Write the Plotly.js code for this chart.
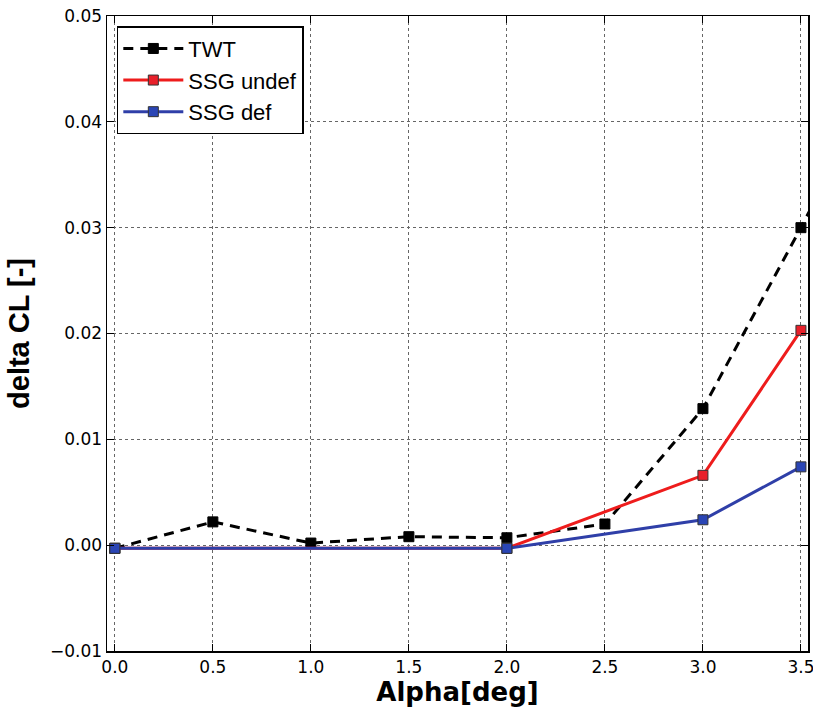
<!DOCTYPE html>
<html>
<head>
<meta charset="utf-8">
<script src="https://cdn.plot.ly/plotly-3.0.1.min.js"></script>
<style>html,body{margin:0;padding:0;background:#fff;}#chart{width:813px;height:707px;}</style>
</head>
<body>
<div id="chart"></div>
<script>
const twtAlpha = [0.0, 0.5, 1.0, 1.5, 2.0, 2.5, 3.0, 3.5, 4.0];
const twtCL = [-0.0003, 0.0022, 0.0002, 0.0008, 0.0007, 0.0020, 0.0129, 0.0300, 0.0480];
const ssgAlpha = [0.0, 2.0, 3.0, 3.5];
const ssgUndefCL = [-0.0003, -0.0003, 0.0066, 0.0203];
const ssgDefCL = [-0.0003, -0.0003, 0.0024, 0.0074];
const xTicks = [0.0, 0.5, 1.0, 1.5, 2.0, 2.5, 3.0, 3.5];
const xTickText = ['0.0', '0.5', '1.0', '1.5', '2.0', '2.5', '3.0', '3.5'];
const yTicks = [-0.01, 0.0, 0.01, 0.02, 0.03, 0.04, 0.05];
const yTickText = ['\u22120.01', '0.00', '0.01', '0.02', '0.03', '0.04', '0.05'];

const traces = [
  {x: twtAlpha, y: twtCL, name: 'TWT', mode: 'lines+markers',
   line: {color: '#000000', width: 3, dash: '10px,7px'},
   marker: {symbol: 'square', size: 10, color: '#000000', line: {color: '#000000', width: 1}}},
  {x: ssgAlpha, y: ssgUndefCL, name: 'SSG undef', mode: 'lines+markers',
   line: {color: '#ee1c1c', width: 3},
   marker: {symbol: 'square', size: 10, color: '#e8202a', line: {color: '#333333', width: 1}}},
  {x: ssgAlpha, y: ssgDefCL, name: 'SSG def', mode: 'lines+markers',
   line: {color: '#2f3fa8', width: 3},
   marker: {symbol: 'square', size: 10, color: '#2a45b5', line: {color: '#333333', width: 1}}}
];

const axisCommon = {
  showline: true, linecolor: '#000', linewidth: 1.5, mirror: 'allticks',
  ticks: 'inside', ticklen: 7, tickcolor: '#000', tickwidth: 1,
  showgrid: true, gridcolor: '#666', griddash: 'dot', gridwidth: 1,
  zeroline: false, ticklabeloverflow: 'allow',
  tickfont: {family: 'DejaVu Sans', size: 17, color: '#000'}
};

const layout = {
  width: 813, height: 707,
  margin: {l: 107, r: 5, t: 16, b: 56},
  paper_bgcolor: '#fff', plot_bgcolor: '#fff',
  showlegend: true,
  legend: {x: 0.014, y: 0.984, xanchor: 'left', yanchor: 'top',
    bordercolor: '#000', borderwidth: 1.5, bgcolor: '#fff',
    font: {family: 'Liberation Sans', size: 22, color: '#000'},
    itemwidth: 60},
  xaxis: Object.assign({}, axisCommon, {
    range: [-0.04, 3.536], tickvals: xTicks, ticktext: xTickText,
    title: {text: 'Alpha[deg]', standoff: 3, font: {family: 'DejaVu Sans', size: 26, color: '#000', weight: 'bold'}}
  }),
  yaxis: Object.assign({}, axisCommon, {
    range: [-0.01, 0.05], tickvals: yTicks, ticktext: yTickText,
    title: {text: 'delta CL [-]', standoff: 12, font: {family: 'Liberation Sans', size: 29, color: '#000', weight: 'bold'}}
  })
};

Plotly.newPlot('chart', traces, layout, {displayModeBar: false, staticPlot: true});
</script>
</body>
</html>
